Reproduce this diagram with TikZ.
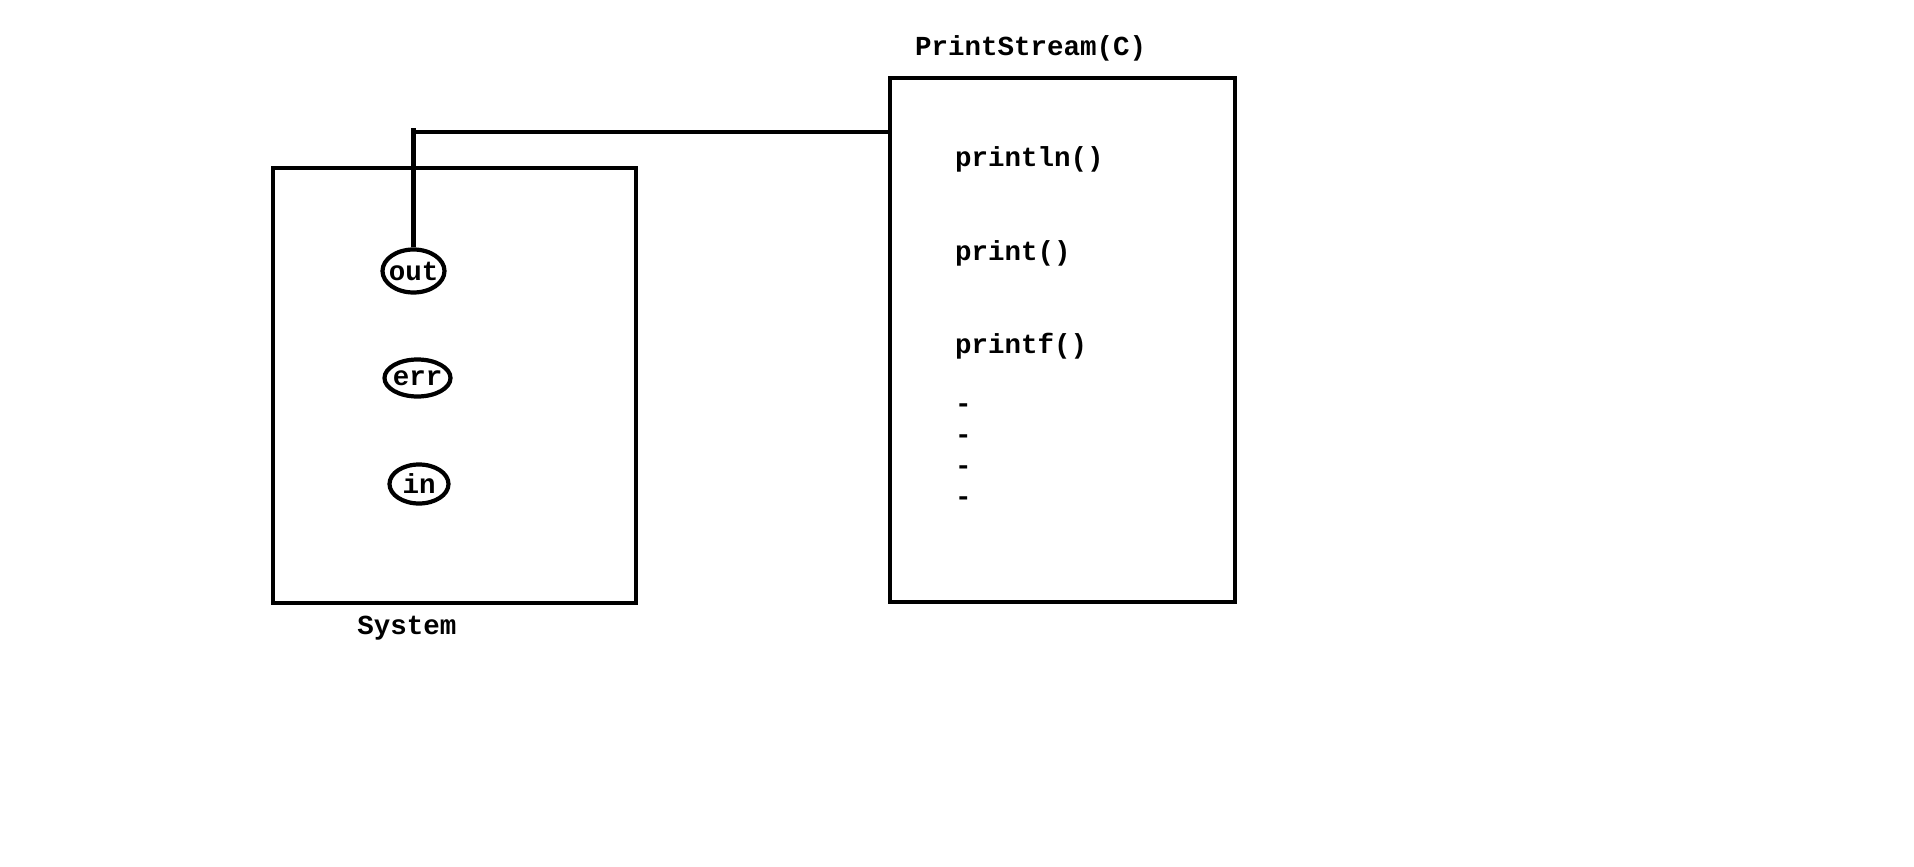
\documentclass[tikz,border=0pt]{standalone}
\usepackage{fontspec}
\setmonofont{Liberation Mono}
\usetikzlibrary{shapes.geometric}
\begin{document}
\begin{tikzpicture}[x=1pt,y=-1pt,
  lw/.style={line width=4.2pt},
  classbox/.style={lw,draw=black,rectangle,inner sep=0pt},
  field/.style={lw,draw=black,ellipse,inner sep=0pt},
  code/.style={inner sep=0pt,font=\fontsize{27.5}{33}\selectfont\ttfamily\bfseries},
  conn/.style={lw,draw=black,line join=miter}]
\useasboundingbox (0,0) rectangle (1914,867);

% System class with its three static fields
\node[classbox,minimum width=363pt,minimum height=435pt] (sys) at (454.5,385.5) {};
\node[code,anchor=base] (syslabel) at (407,634) {System};
\node[field,minimum width=62pt,minimum height=43pt] (out) at (413.5,271) {};
\node[code] at (out) {out};
\node[field,minimum width=66pt,minimum height=37pt] (err) at (417.5,378) {};
\node[code] at (err) {err};
\node[field,minimum width=59pt,minimum height=39pt] (in) at (419,484) {};
\node[code] at (in) {in};

% PrintStream class and its methods
\node[classbox,minimum width=345pt,minimum height=524pt] (ps) at (1062.5,340) {};
\node[code,anchor=base west] (pslabel) at (915,56) {PrintStream(C)};
\node[code,anchor=base west] (m1) at (955,166) {println()};
\node[code,anchor=base west] (m2) at (955,260) {print()};
\node[code,anchor=base west] (m3) at (955,353) {printf()};
\node[code,anchor=base west] (d1) at (955,412) {-};
\node[code,anchor=base west] (d2) at (955,443) {-};
\node[code,anchor=base west] (d3) at (955,474) {-};
\node[code,anchor=base west] (d4) at (955,505) {-};

% out refers to a PrintStream object
\coordinate (bend) at (out.north |- 0,132);
\draw[conn] (out.north) -- ([yshift=4pt]bend);
\draw[conn] ([xshift=-2.1pt]bend) -- (ps.west |- bend);
\end{tikzpicture}
\end{document}
